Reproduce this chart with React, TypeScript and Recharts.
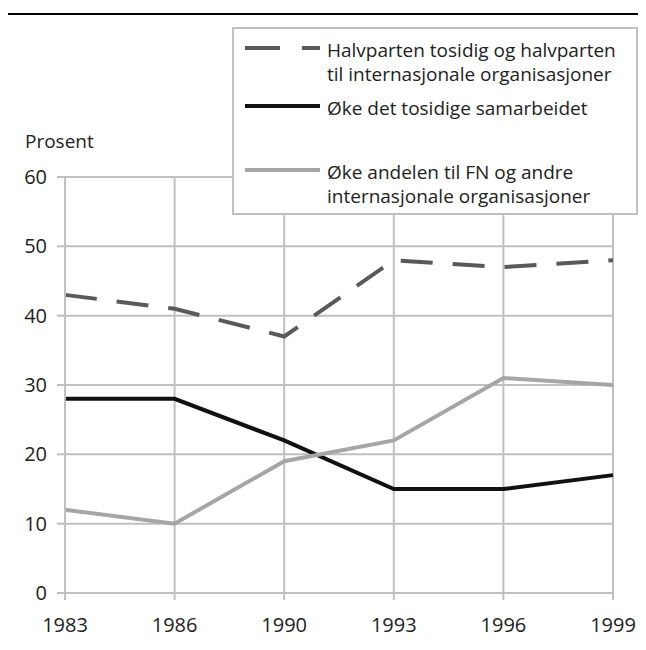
import { LineChart, Line, XAxis, YAxis, CartesianGrid, Legend } from 'recharts';

const years = ['1983', '1986', '1990', '1993', '1996', '1999'];
const halvparten = [43, 41, 37, 48, 47, 48];
const tosidig = [28, 28, 22, 15, 15, 17];
const fnAndel = [12, 10, 19, 22, 31, 30];
const yTicks = [0, 10, 20, 30, 40, 50, 60];

const SERIES = [
  {
    key: 'halvparten',
    label: ['Halvparten tosidig og halvparten', 'til internasjonale organisasjoner'],
    color: '#595959',
    dash: '32 20',
    legendDash: '35 22',
    rowHeight: 58,
  },
  {
    key: 'tosidig',
    label: ['Øke det tosidige samarbeidet'],
    color: '#111111',
    dash: undefined,
    legendDash: undefined,
    rowHeight: 64,
  },
  {
    key: 'fn',
    label: ['Øke andelen til FN og andre', 'internasjonale organisasjoner'],
    color: '#a6a6a6',
    dash: undefined,
    legendDash: undefined,
    rowHeight: 50,
  },
];

const data = years.map((year, i) => ({
  year,
  halvparten: halvparten[i],
  tosidig: tosidig[i],
  fn: fnAndel[i],
}));

const FONT = '"Open Sans", sans-serif';
const GRID = '#c0c0c0';
const TEXT = '#222222';

const renderLegend = () => (
  <div
    style={{
      width: 406,
      height: 188,
      boxSizing: 'border-box',
      border: `2px solid ${GRID}`,
      background: '#fff',
      padding: '9px 0 0 11px',
      fontFamily: FONT,
      fontSize: 19,
      lineHeight: '24px',
      color: TEXT,
      textAlign: 'left',
    }}
  >
    {SERIES.map((s) => (
      <div key={s.key} style={{ display: 'flex', height: s.rowHeight }}>
        <svg width={75} height={24} style={{ flex: 'none' }}>
          <line x1={0} y1={10} x2={75} y2={10} stroke={s.color} strokeWidth={4} strokeDasharray={s.legendDash} />
        </svg>
        <div style={{ marginLeft: 7 }}>
          {s.label.map((l) => (
            <div key={l}>{l}</div>
          ))}
        </div>
      </div>
    ))}
  </div>
);

export default function App() {
  return (
    <div style={{ position: 'relative', margin: -8, width: 646, height: 650, background: '#fff', overflow: 'hidden' }}>
      <div style={{ position: 'absolute', left: 8, top: 13, width: 700, height: 2, background: '#000' }} />
      <div
        style={{
          position: 'absolute',
          left: 25,
          top: 129,
          fontFamily: FONT,
          fontSize: 19,
          lineHeight: '24px',
          color: TEXT,
        }}
      >
        Prosent
      </div>
      <LineChart width={646} height={650} data={data} margin={{ top: 177, right: 33, bottom: 0, left: 0 }}>
        <CartesianGrid stroke={GRID} strokeWidth={2} />
        <XAxis
          dataKey="year"
          height={57}
          axisLine={{ stroke: GRID, strokeWidth: 2 }}
          tickLine={{ stroke: GRID, strokeWidth: 2 }}
          tickSize={7}
          tickMargin={18}
          tick={{ fill: TEXT, fontSize: 20, fontFamily: FONT }}
          interval={0}
        />
        <YAxis
          width={65}
          domain={[0, 60]}
          ticks={yTicks}
          axisLine={{ stroke: GRID, strokeWidth: 2 }}
          tickLine={{ stroke: GRID, strokeWidth: 2 }}
          tickSize={8}
          tickMargin={10}
          tick={{ fill: TEXT, fontSize: 20, fontFamily: FONT }}
        />
        <Legend
          layout="horizontal"
          verticalAlign="middle"
          align="center"
          content={renderLegend}
          wrapperStyle={{ top: 27, left: 232, width: 406, height: 188 }}
        />
        {SERIES.map((s) => (
          <Line
            key={s.key}
            type="linear"
            dataKey={s.key}
            stroke={s.color}
            strokeWidth={4}
            strokeDasharray={s.dash}
            dot={false}
            activeDot={false}
            isAnimationActive={false}
          />
        ))}
      </LineChart>
    </div>
  );
}
